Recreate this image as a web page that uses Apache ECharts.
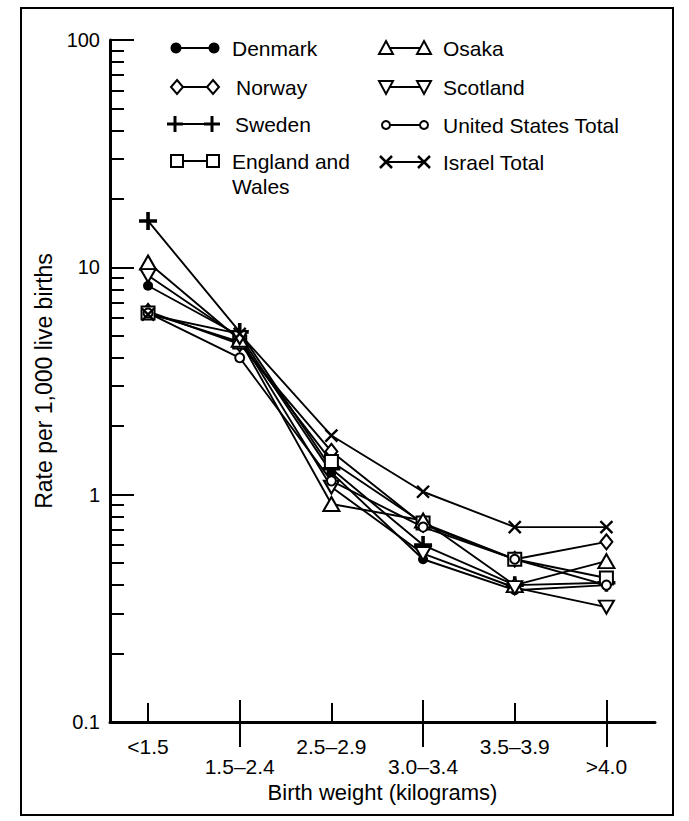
<!DOCTYPE html>
<html>
<head>
<meta charset="utf-8">
<script src="https://cdn.jsdelivr.net/npm/echarts@6/dist/echarts.min.js"></script>
<style>
  html, body { margin: 0; padding: 0; background: #fff; }
  #chart { width: 689px; height: 821px; }
</style>
</head>
<body>
<div id="chart"></div>
<script>
// ---- data ----
const categories = ['<1.5', '1.5–2.4', '2.5–2.9', '3.0–3.4', '3.5–3.9', '>4.0'];
const yTickLabels = [0.1, 1, 10, 100];

const denmark  = [8.3, 5.0, 1.25, 0.52, 0.38, 0.40];
const norway   = [6.4, 4.6, 1.55, 0.74, 0.52, 0.62];
const sweden   = [16.0, 5.2, 1.30, 0.60, 0.40, 0.41];
const england  = [6.3, 4.7, 1.40, 0.75, 0.52, 0.43];
const osaka    = [10.5, 4.8, 0.91, 0.77, 0.40, 0.51];
const scotland = [9.2, 4.9, 1.08, 0.55, 0.39, 0.32];
const usTotal  = [6.3, 4.0, 1.15, 0.72, 0.52, 0.40];
const israel   = [6.2, 5.1, 1.82, 1.03, 0.72, 0.72];

const seriesNames = ['Denmark', 'Norway', 'Sweden', 'England and Wales', 'Osaka', 'Scotland', 'United States Total', 'Israel Total'];

// ---- styling ----
const FONT = 'Liberation Sans';
const PLUS = 'path://M4,0H6V4H10V6H6V10H4V6H0V4H4Z';
const THINPLUS = 'path://M4.3,0H5.7V4.3H10V5.7H5.7V10H4.3V5.7H0V4.3H4.3Z';
const hollow = { color: '#fff', borderColor: '#000', borderWidth: 2 };
const solid = { color: '#000', borderWidth: 0 };

const seriesDefs = [
  { name: seriesNames[0], data: denmark,  symbol: 'circle',   size: 10, item: solid },
  { name: seriesNames[1], data: norway,   symbol: 'diamond',  size: [12, 15], item: hollow },
  { name: seriesNames[2], data: sweden,   symbol: PLUS,       size: 18, item: solid },
  { name: seriesNames[3], data: england,  symbol: 'rect',     size: 13, item: hollow },
  { name: seriesNames[4], data: osaka,    symbol: 'triangle', size: [16, 14], item: hollow },
  { name: seriesNames[5], data: scotland, symbol: 'triangle', size: [15, 13], item: hollow, rotate: 180 },
  { name: seriesNames[6], data: usTotal,  symbol: 'circle',   size: 9, item: hollow },
  { name: seriesNames[7], data: israel,   symbol: THINPLUS,   size: 17, item: solid, rotate: 45 }
];

const XMIN = -0.415, XMAX = 5.53;
const catIdx = categories.map((c, i) => i);
const minorVals = [];
[0.1, 1, 10].forEach(d => { for (let k = 2; k <= 9; k++) minorVals.push(+(d * k).toFixed(2)); });

// ---- legend drawn as graphics ----
function legendSym(kind, cx, cy) {
  const st = { fill: '#fff', stroke: '#000', lineWidth: 2 };
  switch (kind) {
    case 'dot': return [{ type: 'circle', shape: { cx, cy, r: 5.5 }, style: { fill: '#000' } }];
    case 'diamond': return [{ type: 'polygon', shape: { points: [[cx, cy - 7], [cx + 6, cy], [cx, cy + 7], [cx - 6, cy]] }, style: st }];
    case 'plus': return [
      { type: 'line', shape: { x1: cx - 8, y1: cy, x2: cx + 8, y2: cy }, style: { stroke: '#000', lineWidth: 3 } },
      { type: 'line', shape: { x1: cx, y1: cy - 8, x2: cx, y2: cy + 8 }, style: { stroke: '#000', lineWidth: 3 } }];
    case 'square': return [{ type: 'rect', shape: { x: cx - 6, y: cy - 6, width: 12, height: 12 }, style: st }];
    case 'tri': return [{ type: 'polygon', shape: { points: [[cx, cy - 7], [cx + 7, cy + 6], [cx - 7, cy + 6]] }, style: st }];
    case 'dtri': return [{ type: 'polygon', shape: { points: [[cx - 7, cy - 6], [cx + 7, cy - 6], [cx, cy + 7]] }, style: st }];
    case 'circ': return [{ type: 'circle', shape: { cx, cy, r: 4 }, style: st }];
    case 'x': return [
      { type: 'line', shape: { x1: cx - 6, y1: cy - 6, x2: cx + 6, y2: cy + 6 }, style: { stroke: '#000', lineWidth: 2.5 } },
      { type: 'line', shape: { x1: cx - 6, y1: cy + 6, x2: cx + 6, y2: cy - 6 }, style: { stroke: '#000', lineWidth: 2.5 } }];
  }
  return [];
}
const legendLayout = [
  { kind: 'dot',     x1: 176, x2: 214, tx: 232, y: 48,  text: 'Denmark' },
  { kind: 'diamond', x1: 177, x2: 213, tx: 236, y: 87,  text: 'Norway' },
  { kind: 'plus',    x1: 175, x2: 212, tx: 235, y: 124, text: 'Sweden' },
  { kind: 'square',  x1: 177, x2: 213, tx: 232, y: 161, text: 'England and\nWales' },
  { kind: 'tri',     x1: 386, x2: 424, tx: 443, y: 48,  text: 'Osaka' },
  { kind: 'dtri',    x1: 386, x2: 424, tx: 443, y: 87,  text: 'Scotland' },
  { kind: 'circ',    x1: 386, x2: 424, tx: 443, y: 125, text: 'United States Total' },
  { kind: 'x',       x1: 386, x2: 424, tx: 443, y: 162, text: 'Israel Total' }
];
const graphics = [
  { type: 'rect', shape: { x: 21, y: 8, width: 652, height: 807 }, style: { fill: 'none', stroke: '#000', lineWidth: 2 }, z: -1 }
];
legendLayout.forEach(L => {
  graphics.push({ type: 'line', shape: { x1: L.x1, y1: L.y, x2: L.x2, y2: L.y }, style: { stroke: '#000', lineWidth: 2 } });
  legendSym(L.kind, L.x1, L.y).forEach(g => graphics.push(g));
  legendSym(L.kind, L.x2, L.y).forEach(g => graphics.push(g));
  graphics.push({ type: 'text', x: L.tx, y: L.y - 12, style: { text: L.text, fill: '#000', font: '21px "' + FONT + '"', lineHeight: 25 } });
});

const option = {
  animation: false,
  backgroundColor: '#fff',
  grid: { left: 110, right: 34, top: 40, bottom: 99 },
  xAxis: [
    {
      type: 'value', min: XMIN, max: XMAX,
      name: 'Birth weight (kilograms)', nameLocation: 'middle', nameGap: 54,
      nameTextStyle: { color: '#000', fontFamily: FONT, fontSize: 22 },
      axisLine: { show: true, onZero: false, lineStyle: { color: '#000', width: 3 } },
      axisTick: { show: true, inside: true, length: 19, lineStyle: { color: '#000', width: 2 }, customValues: [0, 2, 4] },
      axisLabel: {
        customValues: catIdx, margin: 14, color: '#000', fontFamily: FONT, fontSize: 21, lineHeight: 20,
        formatter: v => { const i = Math.round(v); return (i % 2 ? '\n' : '') + categories[i]; }
      },
      splitLine: { show: false }
    },
    {
      type: 'value', min: XMIN, max: XMAX, position: 'bottom',
      axisLine: { show: false, onZero: false },
      axisTick: { show: true, inside: true, length: 22, lineStyle: { color: '#000', width: 2 }, customValues: [1, 3, 5] },
      axisLabel: { show: false }, splitLine: { show: false }
    },
    {
      type: 'value', min: XMIN, max: XMAX, position: 'bottom',
      axisLine: { show: false, onZero: false },
      axisTick: { show: true, inside: false, length: 25, lineStyle: { color: '#000', width: 2 }, customValues: [1, 3, 5] },
      axisLabel: { show: false }, splitLine: { show: false }
    }
  ],
  yAxis: [
    {
      type: 'log', logBase: 10, min: 0.1, max: 100,
      name: 'Rate per 1,000 live births', nameLocation: 'middle', nameGap: 50, nameRotate: 90,
      nameTextStyle: { color: '#000', fontFamily: FONT, fontSize: 23 },
      axisLine: { show: true, onZero: false, lineStyle: { color: '#000', width: 3 } },
      axisTick: { show: true, inside: true, length: 24, lineStyle: { color: '#000', width: 2 } },
      axisLabel: { customValues: yTickLabels, margin: 10, color: '#000', fontFamily: FONT, fontSize: 20, formatter: v => String(v) },
      splitLine: { show: false }, minorTick: { show: false }
    },
    {
      type: 'log', logBase: 10, min: 0.1, max: 100, position: 'left',
      axisLine: { show: false, onZero: false },
      axisTick: { show: true, inside: true, length: 14, lineStyle: { color: '#000', width: 2 }, customValues: minorVals },
      axisLabel: { show: false }, splitLine: { show: false }
    }
  ],
  series: seriesDefs.map(s => ({
    type: 'line', name: s.name, xAxisIndex: 0, yAxisIndex: 0,
    data: s.data.map((v, i) => [i, v]),
    symbol: s.symbol, symbolSize: s.size, symbolRotate: s.rotate || 0, showAllSymbol: true,
    itemStyle: s.item, lineStyle: { color: '#000', width: 1.9 },
    emphasis: { disabled: true }
  })),
  graphic: graphics
};

const chart = echarts.init(document.getElementById('chart'), null, { renderer: 'svg' });
chart.setOption(option);
</script>
</body>
</html>
